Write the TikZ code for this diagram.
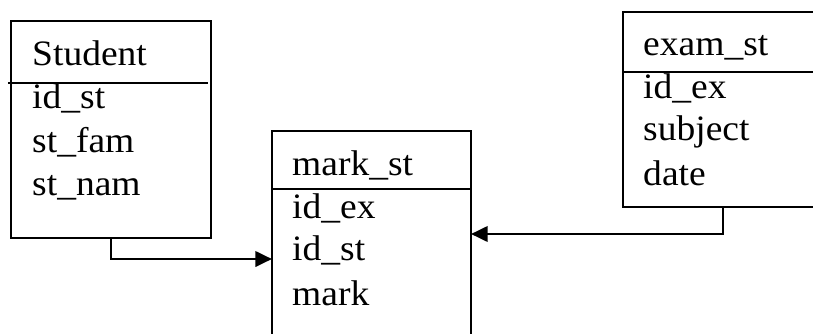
\documentclass[tikz,border=0pt]{standalone}
\usepackage{fontspec}
\setmainfont[FakeStretch=1.05]{Liberation Serif}
\usetikzlibrary{positioning, arrows.meta}

\begin{document}
\begin{tikzpicture}[
  x=0.03cm, y=-0.03cm,
  table/.style={draw, line width=1.6pt, inner sep=0pt, outer sep=0pt},
  field/.style={anchor=base west, inner sep=0pt, font=\fontsize{30.5pt}{36pt}\selectfont},
  headline/.style={line width=1.6pt},
  arrow/.style={-{Triangle[length=0.5cm, width=0.46cm]}, line width=2.4pt}
]
\useasboundingbox (0,0) rectangle (813,333);
\fill[white] (0,0) rectangle (813,333);
\clip (0,0) rectangle (813,333);

% Tables
\node[table, minimum width=6cm, minimum height=6.51cm] (student) at (111,129.5) {};
\node[table, minimum width=5.97cm, minimum height=7.68cm] (markst) at (371.5,259) {};
\node[table, minimum width=6cm, minimum height=5.85cm] (examst) at (723,109.5) {};

% Header lines
\draw[headline] ([xshift=-0.09cm, yshift=-1.86cm]student.north west) -- ([xshift=-0.09cm, yshift=-1.86cm]student.north east);
\draw[headline] ([yshift=-1.74cm]markst.north west) -- ([yshift=-1.74cm]markst.north east);
\draw[headline] ([xshift=-0.03cm, yshift=-1.8cm]examst.north west) -- ([yshift=-1.8cm]examst.north east);

% Student
\node[field] (student_h) at (32,65) {Student};
\node[field] (student_1) at (32,108) {id\_st};
\node[field] (student_2) at (32,152) {st\_fam};
\node[field] (student_3) at (32,195) {st\_nam};

% mark_st
\node[field] (markst_h) at (292,175) {mark\_st};
\node[field] (markst_1) at (292,218) {id\_ex};
\node[field] (markst_2) at (292,260) {id\_st};
\node[field] (markst_3) at (292,305) {mark};

% exam_st
\node[field] (examst_h) at (643,55) {exam\_st};
\node[field] (examst_1) at (643,98) {id\_ex};
\node[field] (examst_2) at (643,140) {subject};
\node[field] (examst_3) at (643,185) {date};

% Connections
\draw[arrow] (student.south) |- (markst.west);
\draw[arrow] (examst.south) |- ([yshift=0.75cm]markst.east);

\end{tikzpicture}
\end{document}
